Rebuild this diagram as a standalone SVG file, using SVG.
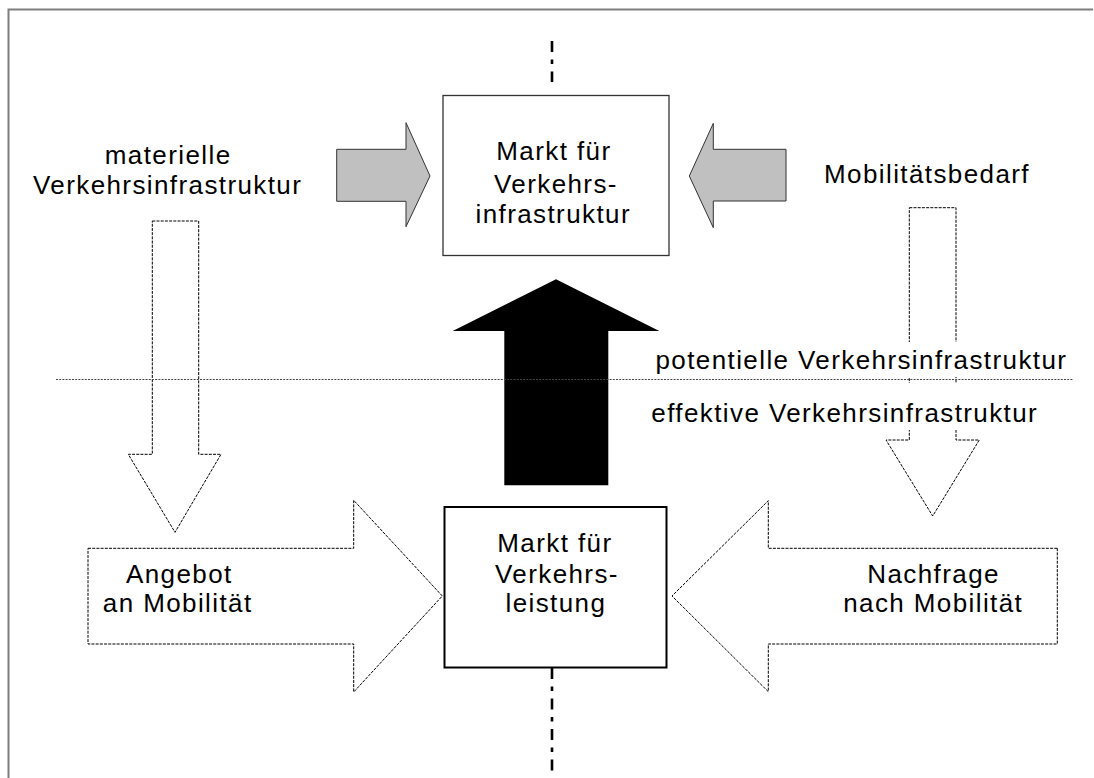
<svg xmlns="http://www.w3.org/2000/svg" width="1094" height="778" viewBox="0 0 1094 778">
  <style>
    .lbl { font-family: "Liberation Sans", Arial, sans-serif; font-size: 26px; letter-spacing: 1.4px; fill: #000; }
    .dash { fill: #fff; stroke: #000; stroke-width: 1; stroke-dasharray: 3 1.2; }
    .grey { fill: #c0c0c0; stroke: #333; stroke-width: 1; }
    .axis { fill: none; stroke: #000; stroke-width: 2.6; stroke-dasharray: 11 7.5 4.5 7.5; }
  </style>
  <rect width="1094" height="778" fill="#fff"/>
  <!-- frame -->
  <polyline points="8.5,778 8.5,9.5 1093,9.5" fill="none" stroke="#7f7f7f" stroke-width="2"/>

  <g id="connectors">
    <!-- vertical axis through both markets -->
    <line class="axis" x1="552" y1="41" x2="552" y2="82"/>
    <line class="axis" x1="552" y1="668" x2="552" y2="778"/>
    <!-- grey input arrows -->
    <polygon class="grey" points="336.7,149.3 406,149.3 406,122.7 430,176 406,226.7 406,201.3 336.7,201.3"/>
    <polygon class="grey" points="786,149.3 713.3,149.3 713.3,123.3 689.3,176 713.3,227.7 713.3,201 786,201"/>
    <!-- black upward arrow -->
    <polygon fill="#000" points="504.3,485.3 504.3,331 452.7,331 556,279.3 659.3,331 608.3,331 608.3,485.3"/>
    <!-- dashed downward arrows -->
    <polygon class="dash" style="fill:none" points="152.3,221 198.7,221 198.7,454.3 221,454.3 175,532.3 128.3,454.3 152.3,454.3"/>
    <polygon class="dash" style="fill:none" points="909.3,207.7 956,207.7 956,440 979.3,440 932.7,516 886,440 909.3,440"/>
    <!-- label backgrounds on the right shaft -->
    <rect x="650" y="342" width="425" height="35" fill="#fff"/>
    <rect x="648" y="383" width="405" height="47" fill="#fff"/>
    <!-- boundary potential / effective -->
    <line x1="56" y1="379.5" x2="1073" y2="379.5" stroke="#444" stroke-width="1" stroke-dasharray="2 1.2"/>
  </g>

  <g id="markt-infrastruktur">
    <rect x="443" y="95.5" width="226" height="160" fill="#fff" stroke="#333" stroke-width="1.3"/>
    <text class="lbl" x="496.3" y="160">Markt für</text>
    <text class="lbl" x="494" y="192.7">Verkehrs-</text>
    <text class="lbl" x="475.5" y="223.3">infrastruktur</text>
  </g>

  <g id="materielle-infrastruktur">
    <text class="lbl" x="104.8" y="164.3">materielle</text>
    <text class="lbl" x="33" y="194.3">Verkehrsinfrastruktur</text>
  </g>

  <g id="mobilitaetsbedarf">
    <text class="lbl" x="824" y="182.7">Mobilitätsbedarf</text>
  </g>

  <g id="potentielle">
    <text class="lbl" x="655.5" y="369">potentielle Verkehrsinfrastruktur</text>
  </g>

  <g id="effektive">
    <text class="lbl" x="651.3" y="421.7">effektive Verkehrsinfrastruktur</text>
  </g>

  <g id="angebot">
    <polygon class="dash" points="88,548.3 353.7,548.3 353.7,500.3 442.3,596 353.7,692 353.7,644 88,644"/>
    <text class="lbl" x="126" y="582.7">Angebot</text>
    <text class="lbl" x="102.8" y="612.3">an Mobilität</text>
  </g>

  <g id="nachfrage">
    <polygon class="dash" points="1057.3,548.3 768.3,548.3 768.3,500.7 672,596 768.3,691.7 768.3,644 1057.3,644"/>
    <text class="lbl" x="867.3" y="582.7">Nachfrage</text>
    <text class="lbl" x="843.2" y="611.7">nach Mobilität</text>
  </g>

  <g id="markt-verkehrsleistung">
    <rect x="444.5" y="507" width="222" height="160.5" fill="#fff" stroke="#000" stroke-width="2"/>
    <text class="lbl" x="497.3" y="552.3">Markt für</text>
    <text class="lbl" x="495" y="583.3">Verkehrs-</text>
    <text class="lbl" x="505.5" y="612.3">leistung</text>
  </g>
</svg>
